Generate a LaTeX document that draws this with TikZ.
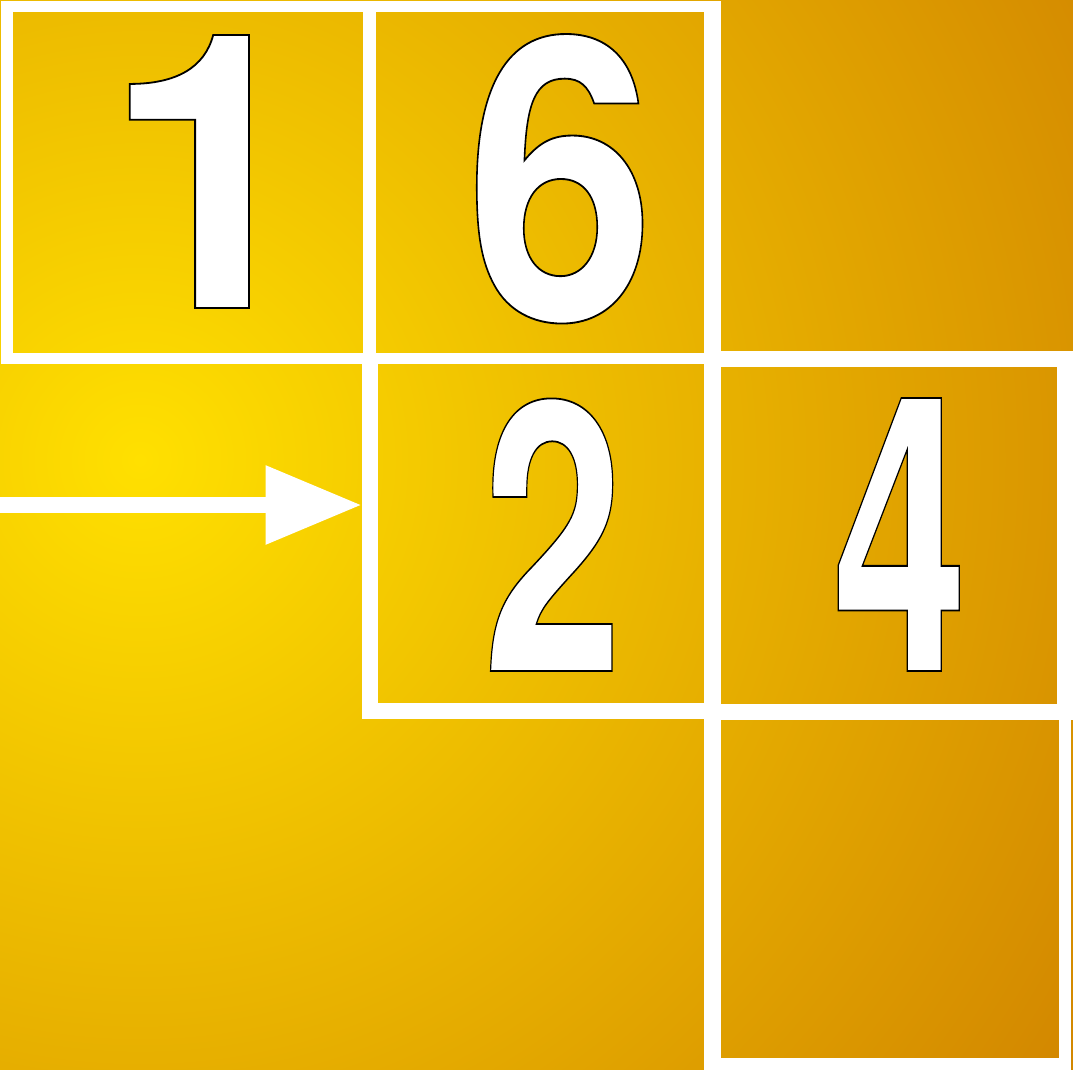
\documentclass[tikz,border=0pt]{standalone}
\usepackage{fontspec}
\setmainfont{TeX Gyre Heros}
\usetikzlibrary{arrows.meta}
\definecolor{bgInner}{RGB}{255,224,0}
\definecolor{bgOuter}{RGB}{210,134,0}
\pgfdeclareradialshading{bgshade}{\pgfpoint{0bp}{0bp}}{color(0bp)=(bgInner); color(25bp)=(bgOuter); color(50bp)=(bgOuter)}
\newcommand\outl[1]{\special{pdf:literal direct 2 Tr 1.8 w 0 0 0 RG}#1\special{pdf:literal direct 0 Tr}}
\tikzset{
  wstrip/.style={fill=white},
  cellbox/.style={inner sep=0pt, outer sep=0pt, draw=none},
  digit/.style={inner sep=0pt, outer sep=0pt, anchor=base, text=white,
    font=\fontsize{385}{385}\selectfont\bfseries},
  bigarrow/.style={draw=white, line width=15.4pt, -{Triangle[length=96pt,width=75pt]}}
}
\begin{document}
\begin{tikzpicture}[x=1pt,y=-1pt]
\useasboundingbox (0,0) rectangle (1073,1070);
\begin{scope}
  \clip (0,0) rectangle (1073,1070);
  \shade[shading=bgshade] (140,460) circle (1120);
\end{scope}
% cells
\node[cellbox, minimum width=368.7pt, minimum height=363.3pt] (c1) at (185.35,182.65) {};
\node[cellbox, minimum width=357.7pt, minimum height=363.3pt] (c6) at (541.85,182.65) {};
\node[cellbox, minimum width=343.3pt, minimum height=366.6pt] (c2) at (533.35,536) {};
\node[cellbox, minimum width=368.7pt, minimum height=352.6pt] (c4) at (888.65,527.35) {};
\node[cellbox, minimum width=366.7pt, minimum height=366.5pt] (c9) at (887.65,886.75) {};
% white strips
\fill[wstrip] (1,1) rectangle (720.7,12);
\fill[wstrip] (1,1) rectangle (13,364.3);
\fill[wstrip] (363,1) rectangle (376,364.3);
\fill[wstrip] (1,352.7) rectangle (705,364.3);
\fill[wstrip] (704.3,1) rectangle (720.7,1070);
\fill[wstrip] (720,351) rectangle (1073,366.7);
\fill[wstrip] (361.7,352.7) rectangle (377.7,719.3);
\fill[wstrip] (361.7,703.3) rectangle (705,719.3);
\fill[wstrip] (720,703.5) rectangle (1073,720);
\fill[wstrip] (1057,351) rectangle (1073,720);
\fill[wstrip] (1059,703.5) rectangle (1071,1070);
\fill[wstrip] (704.3,1058.3) rectangle (1071,1070);
% arrow
\coordinate (astart) at (0,505);
\draw[bigarrow] (astart) -- (astart -| c2.west);
% digits
\node[digit] (d1) at (210.5,308) {\outl{1}};
\node[digit, xscale=0.884, yscale=1.026] (d6) at (560.5,320) {\outl{6}};
\node[digit, xscale=0.654, yscale=0.978] (d2) at (553,671) {\outl{2}};
\node[digit, xscale=0.631] (d4) at (900,671) {\outl{4}};
\end{tikzpicture}
\end{document}
